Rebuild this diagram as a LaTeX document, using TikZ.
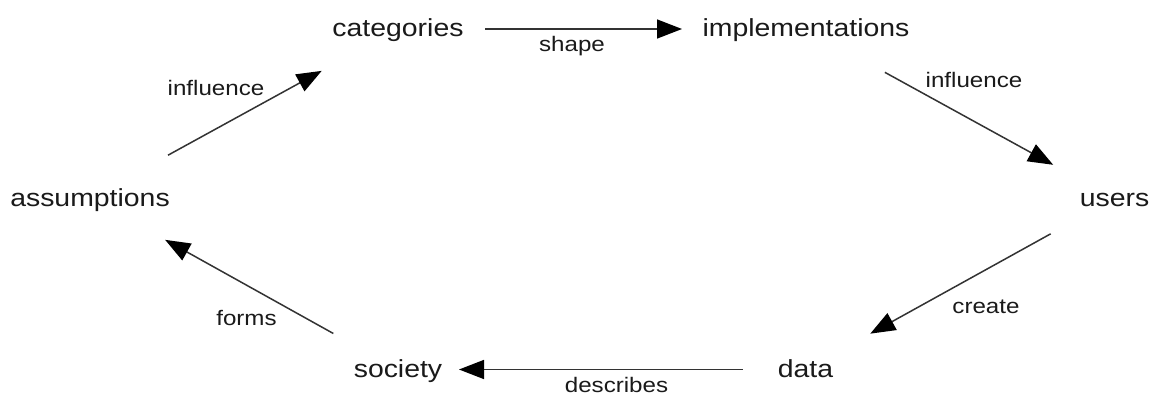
\documentclass[tikz,border=0pt]{standalone}
\usepackage{fontspec}
\setmainfont[FakeStretch=1.15]{Liberation Sans}
\usetikzlibrary{arrows.meta}
\definecolor{ink}{HTML}{1A1A1A}
\definecolor{wire}{HTML}{333333}
\begin{document}
\begin{tikzpicture}[x=1pt,y=-1pt,
  term/.style={anchor=base, inner sep=0pt, text height=20pt, text depth=4pt,
               text=ink, font=\fontsize{24.7}{30}\selectfont},
  tag/.style={anchor=base, inner sep=0pt, text=ink, font=\fontsize{21}{26}\selectfont},
  flow/.style={draw=wire, line width=1.5pt,
               -{Triangle[length=25pt,width=19pt,color=black]}}]
\useasboundingbox[fill=white] (0,0) rectangle (1156,396);

% the six stages of the cycle (placed on their baselines)
\node[term] (cat)   at (398,37)    {categories};
\node[term] (impl)  at (806,37)    {implementations};
\node[term] (users) at (1114.5,206.5) {users};
\node[term] (data)  at (805.5,377.5)  {data};
\node[term] (soc)   at (398,377.5)    {society};
\node[term] (assum) at (90,206)       {assumptions};

% connectors, centre to centre, trimmed short of the words
\draw[flow, shorten <=87pt, shorten >=124pt] (cat.center)   -- (impl.center);
\draw[flow, shorten <=90pt, shorten >=70pt]  (impl.center)  -- (users.center);
\draw[flow, shorten <=73pt, shorten >=74pt]  (users.center) -- (data.center);
\draw[flow, shorten <=63pt, shorten >=61pt]  (data.center)  -- (soc.center);
\draw[flow, shorten <=74pt, shorten >=86pt]  (soc.center)   -- (assum.center);
\draw[flow, shorten <=89pt, shorten >=87pt]  (assum.center) -- (cat.center);

% connector labels
\node[tag] (l-shape)     at (572,52)    {shape};
\node[tag] (l-infl-r)    at (974,87)    {influence};
\node[tag] (l-create)    at (986,313)   {create};
\node[tag] (l-describes) at (616.5,392) {describes};
\node[tag] (l-forms)     at (246.5,325) {forms};
\node[tag] (l-infl-l)    at (216,95)    {influence};
\end{tikzpicture}
\end{document}
